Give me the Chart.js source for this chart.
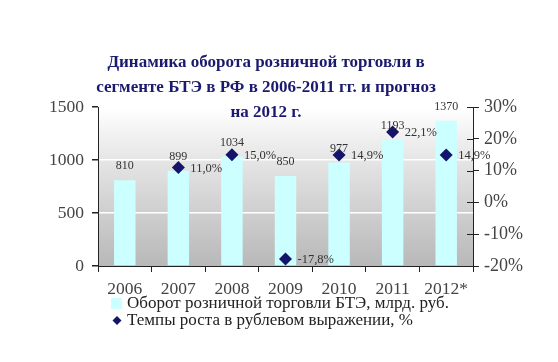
<!DOCTYPE html>
<html>
<head>
<meta charset="utf-8">
<script src="https://cdn.jsdelivr.net/npm/chart.js@4/dist/chart.umd.min.js"></script>
<style>
html,body{margin:0;padding:0;background:#fff;}
canvas{display:block;}
</style>
</head>
<body>
<canvas id="c" width="558" height="362"></canvas>
<script>
const categories = ['2006','2007','2008','2009','2010','2011','2012*'];
const turnover = [810, 899, 1034, 850, 977, 1193, 1370];
const growth = [null, 11.0, 15.0, -17.8, 14.9, 22.1, 14.9];
const titleLines = ['Динамика оборота розничной торговли в','сегменте БТЭ в РФ в 2006-2011 гг. и прогноз','на 2012 г.'];
const seriesNames = ['Оборот розничной торговли БТЭ, млрд. руб.','Темпы роста в рублевом выражении, %'];

const SERIF = '"Liberation Serif", "Times New Roman", serif';
const BAR_COLOR = '#ccffff';
const PT_COLOR = '#14146b';

const bgPlugin = {
  id: 'bg',
  beforeDraw(chart) {
    const {ctx, chartArea: a} = chart;
    const g = ctx.createLinearGradient(0, a.top, 0, a.bottom);
    g.addColorStop(0, '#ffffff');
    g.addColorStop(0.35, '#e4e4e4');
    g.addColorStop(1, '#b8b8b8');
    ctx.save();
    ctx.fillStyle = g;
    ctx.fillRect(a.left, a.top, a.right - a.left, a.bottom - a.top);
    ctx.restore();
  }
};

const labelPlugin = {
  id: 'labels',
  afterDatasetsDraw(chart) {
    const ctx = chart.ctx;
    ctx.save();
    const barMeta = chart.getDatasetMeta(0);
    ctx.font = '12px ' + SERIF;
    ctx.fillStyle = '#333';
    ctx.textAlign = 'center';
    ctx.textBaseline = 'middle';
    barMeta.data.forEach((el, i) => {
      ctx.fillText(String(turnover[i]), el.x, el.y - 14);
    });
    const ptMeta = chart.getDatasetMeta(1);
    ctx.font = '12.5px ' + SERIF;
    ctx.textAlign = 'left';
    ptMeta.data.forEach((el, i) => {
      if (growth[i] == null) return;
      const t = growth[i].toFixed(1).replace('.', ',') + '%';
      ctx.fillText(t, el.x + 12, el.y + 1);
    });
    ctx.restore();
  },
  afterDraw(chart) {
    const ctx = chart.ctx;
    const a = chart.chartArea;
    ctx.save();
    const y1 = chart.scales.y1;
    ctx.strokeStyle = '#222';
    ctx.lineWidth = 1;
    y1.ticks.forEach((t, i) => {
      const y = Math.round(y1.getPixelForTick(i)) + 0.5;
      ctx.beginPath();
      ctx.moveTo(a.right - 6, y);
      ctx.lineTo(a.right, y);
      ctx.stroke();
    });
    ctx.fillStyle = '#1a1a6e';
    ctx.font = 'bold 17px ' + SERIF;
    ctx.textAlign = 'center';
    ctx.textBaseline = 'middle';
    const ys = [63, 88, 113];
    titleLines.forEach((l, i) => ctx.fillText(l, 266, ys[i]));
    ctx.font = '17px ' + SERIF;
    ctx.textAlign = 'left';
    ctx.fillStyle = '#222';
    ctx.fillText(seriesNames[0], 127, 304);
    ctx.fillText(seriesNames[1], 127, 321);
    ctx.fillStyle = BAR_COLOR;
    ctx.fillRect(111, 298, 11, 11);
    ctx.fillStyle = PT_COLOR;
    ctx.beginPath();
    ctx.moveTo(117, 316); ctx.lineTo(121.5, 320.5); ctx.lineTo(117, 325); ctx.lineTo(112.5, 320.5);
    ctx.closePath(); ctx.fill();
    ctx.restore();
  }
};

new Chart(document.getElementById('c'), {
  data: {
    labels: categories,
    datasets: [
      {
        type: 'bar',
        label: seriesNames[0],
        data: turnover,
        backgroundColor: BAR_COLOR,
        borderWidth: 0,
        barPercentage: 0.4,
        categoryPercentage: 1,
        yAxisID: 'y',
        order: 2
      },
      {
        type: 'line',
        label: seriesNames[1],
        data: growth,
        showLine: false,
        pointStyle: 'rectRot',
        pointRadius: 6.5,
        pointHoverRadius: 6.5,
        backgroundColor: PT_COLOR,
        borderColor: PT_COLOR,
        borderWidth: 0,
        yAxisID: 'y1',
        order: 1
      }
    ]
  },
  options: {
    responsive: false,
    animation: false,
    events: [],
    layout: { padding: { top: 107, left: 0, right: 0, bottom: 0 } },
    plugins: { legend: { display: false }, title: { display: false }, tooltip: { enabled: false } },
    scales: {
      x: {
        offset: true,
        grid: { display: true, drawOnChartArea: false, offset: true, tickLength: 6, tickColor: '#222' },
        border: { color: '#222', width: 1 },
        ticks: { font: { family: SERIF, size: 17.5 }, color: '#444', padding: 7, maxRotation: 0 },
        afterFit(s) { s.height = 96; }
      },
      y: {
        position: 'left',
        min: 0, max: 1500,
        ticks: { stepSize: 500, font: { family: SERIF, size: 17.5 }, color: '#444', padding: 8, callback: (v) => String(v) },
        grid: { color: (c) => (c.tick && (c.tick.value === 0 || c.tick.value === 1500)) ? 'rgba(0,0,0,0)' : '#ffffff', lineWidth: 1.5, tickLength: 6, tickColor: '#222' },
        border: { color: '#222', width: 1 },
        afterFit(s) { s.width = 98; }
      },
      y1: {
        position: 'right',
        min: -20, max: 30,
        ticks: { stepSize: 10, font: { family: SERIF, size: 18 }, color: '#444', padding: 5, callback: (v) => String(v) + '%' },
        grid: { drawOnChartArea: false, tickLength: 6, tickColor: '#222' },
        border: { color: '#222', width: 1 },
        afterFit(s) { s.width = 85; }
      }
    }
  },
  plugins: [bgPlugin, labelPlugin]
});
</script>
</body>
</html>
